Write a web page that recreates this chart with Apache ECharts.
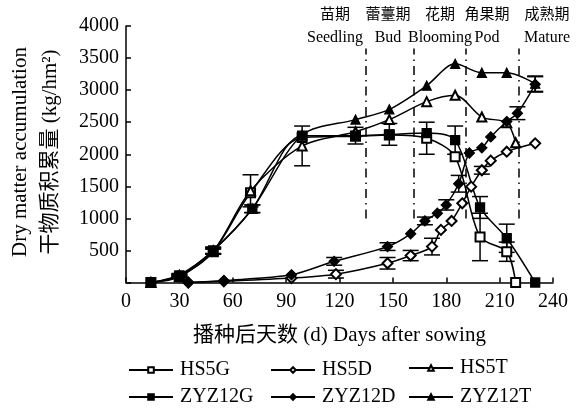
<!DOCTYPE html>
<html>
<head>
  <meta charset="utf-8">
  <title>干物质积累量</title>
  <script src="https://cdn.jsdelivr.net/npm/echarts@6.0.0/dist/echarts.min.js"></script>
  <style>
    html, body { margin: 0; padding: 0; background: #fff; }
    #main { width: 579px; height: 408px; }
  </style>
</head>
<body>
  <div id="main"></div>
  <script>
    // 各处理的取样天数、干物质量和误差
    const hs5gDays = [14, 30, 49, 70, 99, 129, 148, 169, 185, 199, 214, 219];
    const hs5gVals = [0, 90, 480, 1400, 2260, 2280, 2300, 2250, 1960, 710, 480, 0];
    const hs5gErr  = [0, 20, 40, 0, 0, 0, 0, 250, 0, 370, 150, 0];

    const hs5dDays = [35, 55, 93, 118, 147, 160, 172, 177, 183, 189, 194, 200, 205, 214, 230];
    const hs5dVals = [0, 20, 70, 130, 300, 420, 560, 820, 960, 1235, 1495, 1750, 1900, 2040, 2170];
    const hs5dErr  = [0, 0, 0, 60, 90, 80, 130, 0, 0, 0, 0, 60, 0, 0, 0];

    const hs5tDays = [14, 30, 49, 70, 99, 129, 148, 169, 185, 200, 214, 219];
    const hs5tVals = [0, 100, 490, 1430, 2130, 2350, 2540, 2820, 2920, 2580, 2490, 2180];
    const hs5tErr  = [0, 20, 40, 250, 310, 0, 0, 0, 0, 0, 0, 0];

    const zyzgDays = [14, 30, 49, 71, 99, 129, 148, 169, 185, 199, 214, 230];
    const zyzgVals = [0, 110, 500, 1150, 2290, 2290, 2310, 2330, 2220, 1170, 690, 0];
    const zyzgErr  = [0, 20, 50, 60, 0, 130, 170, 0, 220, 170, 220, 0];

    const zyzdDays = [35, 55, 93, 117, 147, 160, 168, 175, 180, 187, 193, 200, 205, 214, 220, 230];
    const zyzdVals = [0, 30, 120, 330, 560, 760, 960, 1080, 1210, 1540, 2020, 2100, 2270, 2510, 2640, 3090];
    const zyzdErr  = [0, 0, 0, 60, 60, 0, 60, 0, 80, 130, 0, 0, 0, 0, 100, 120];

    const zyztDays = [14, 30, 49, 71, 99, 129, 148, 169, 185, 200, 214, 230];
    const zyztVals = [0, 120, 500, 1150, 2300, 2540, 2700, 3070, 3410, 3270, 3270, 3100];
    const zyztErr  = [0, 20, 50, 60, 0, 0, 0, 0, 0, 0, 0, 120];

    // 生育期分界线（天）及范围
    const stageDays = [135, 162, 191, 221];
    const stageRange = [1000, 3650];
    const stageCn = ['苗期', '蕾薹期', '花期', '角果期', '成熟期'];
    const stageEn = ['Seedling', 'Bud', 'Blooming', 'Pod', 'Mature'];
    const stageLabelX = [335, 388, 440, 487, 547];

    const FONT = '"Liberation Serif", "Noto Sans CJK SC", serif';

    const seriesDefs = [
      { name: 'HS5G', days: hs5gDays, vals: hs5gVals, err: hs5gErr, symbol: 'emptyRect' },
      { name: 'HS5D', days: hs5dDays, vals: hs5dVals, err: hs5dErr, symbol: 'emptyDiamond' },
      { name: 'HS5T', days: hs5tDays, vals: hs5tVals, err: hs5tErr, symbol: 'emptyTriangle' },
      { name: 'ZYZ12G', days: zyzgDays, vals: zyzgVals, err: zyzgErr, symbol: 'rect' },
      { name: 'ZYZ12D', days: zyzdDays, vals: zyzdVals, err: zyzdErr, symbol: 'diamond' },
      { name: 'ZYZ12T', days: zyztDays, vals: zyztVals, err: zyztErr, symbol: 'triangle' }
    ];

    function errorBar(params, api) {
      const x = api.value(0);
      const top = api.coord([x, api.value(2)]);
      const bot = api.coord([x, api.value(1)]);
      const w = 8;
      const style = { stroke: '#000', lineWidth: 1.5 };
      return {
        type: 'group',
        children: [
          { type: 'line', shape: { x1: top[0], y1: top[1], x2: bot[0], y2: bot[1] }, style: style },
          { type: 'line', shape: { x1: top[0] - w, y1: top[1], x2: top[0] + w, y2: top[1] }, style: style },
          { type: 'line', shape: { x1: bot[0] - w, y1: bot[1], x2: bot[0] + w, y2: bot[1] }, style: style }
        ]
      };
    }

    const series = [];
    seriesDefs.forEach((s, i) => {
      const line = {
        name: s.name,
        type: 'line',
        smooth: 0.3,
        symbol: s.symbol,
        symbolSize: s.symbol.toLowerCase().indexOf('diamond') >= 0 ? 10 : 9,
        lineStyle: { color: '#000', width: 1.5 },
        itemStyle: { color: '#000', borderColor: '#000', borderWidth: 1.3 },
        z: 3,
        data: s.days.map((d, k) => [d, s.vals[k]])
      };
      if (i === 0) {
        line.markLine = {
          silent: true,
          symbol: 'none',
          label: { show: false },
          lineStyle: { color: '#000', width: 1.5, type: [9, 5, 1.5, 5] },
          data: stageDays.map(d => [{ coord: [d, stageRange[0]] }, { coord: [d, stageRange[1]] }])
        };
      }
      series.push(line);
      const errData = [];
      s.days.forEach((d, k) => {
        if (s.err[k] > 0) errData.push([d, s.vals[k] - s.err[k], s.vals[k] + s.err[k]]);
      });
      series.push({
        type: 'custom',
        name: s.name + '_err',
        renderItem: errorBar,
        data: errData,
        z: 2,
        silent: true
      });
    });

    const legendPos = [
      { left: 128, top: 360 }, { left: 270, top: 360 }, { left: 408, top: 358 },
      { left: 128, top: 387 }, { left: 270, top: 387 }, { left: 408, top: 387 }
    ];
    const legends = seriesDefs.map((s, i) => ({
      data: [s.name],
      left: legendPos[i].left,
      top: legendPos[i].top,
      padding: 0,
      itemWidth: 44,
      itemHeight: 7,
      itemGap: 0,
      textStyle: { fontFamily: FONT, fontSize: 20, color: '#000', padding: [0, 0, 0, 2] },
      selectedMode: false
    }));

    const graphics = [
      {
        type: 'text', x: 20, y: 152, rotation: Math.PI / 2,
        style: { text: 'Dry matter accumulation', font: '21px ' + FONT, fill: '#000', textAlign: 'center', textVerticalAlign: 'middle' }
      },
      {
        type: 'text', x: 50, y: 152, rotation: Math.PI / 2,
        style: { text: '干物质积累量 (kg/hm²)', font: '21px ' + FONT, fill: '#000', textAlign: 'center', textVerticalAlign: 'middle' }
      }
    ];
    stageCn.forEach((t, i) => {
      graphics.push({
        type: 'text', x: stageLabelX[i], y: 15,
        style: { text: t, font: '15px ' + FONT, fill: '#000', textAlign: 'center', textVerticalAlign: 'middle' }
      });
      graphics.push({
        type: 'text', x: stageLabelX[i], y: 38,
        style: { text: stageEn[i], font: '16px ' + FONT, fill: '#000', textAlign: 'center', textVerticalAlign: 'middle' }
      });
    });

    const chart = echarts.init(document.getElementById('main'));
    chart.setOption({
      animation: false,
      backgroundColor: '#fff',
      grid: { left: 126, right: 26, top: 26, bottom: 125.5, outerBoundsMode: 'none' },
      xAxis: {
        type: 'value',
        min: 0, max: 240, interval: 30,
        name: '播种后天数 (d) Days after sowing',
        nameLocation: 'middle',
        nameGap: 42,
        nameTextStyle: { fontFamily: FONT, fontSize: 21, color: '#000' },
        axisLine: { lineStyle: { color: '#000', width: 1.5 } },
        axisTick: { inside: true, length: 5, lineStyle: { color: '#000', width: 1.5 } },
        axisLabel: { fontFamily: FONT, fontSize: 20, color: '#000', margin: 9 },
        splitLine: { show: false }
      },
      yAxis: {
        type: 'value',
        min: 0, max: 4000, interval: 500,
        axisLine: { show: true, lineStyle: { color: '#000', width: 1.5 } },
        axisTick: { show: true, inside: true, length: 5, lineStyle: { color: '#000', width: 1.5 } },
        axisLabel: {
          fontFamily: FONT, fontSize: 20, color: '#000', margin: 7,
          formatter: v => (v === 0 ? '' : v)
        },
        splitLine: { show: false }
      },
      legend: legends,
      graphic: graphics,
      series: series
    });
  </script>
</body>
</html>
